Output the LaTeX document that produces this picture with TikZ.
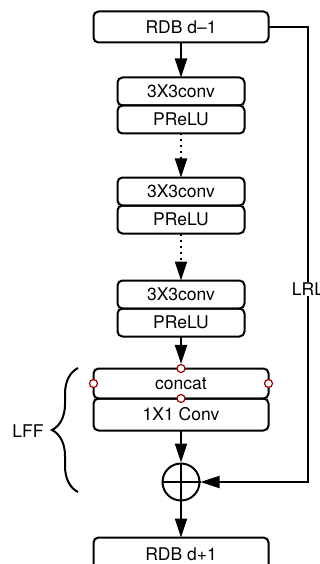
\documentclass[tikz,border=0pt]{standalone}
\usepackage{fontspec}
\setmainfont{TeX Gyre Heros}
\usetikzlibrary{arrows.meta,positioning,decorations.pathreplacing}

\begin{document}
\begin{tikzpicture}[
    x=1pt, y=-1pt,
    font=\fontsize{17.5}{20}\selectfont,
    box/.style={draw, rounded corners=5pt, line width=2pt, align=center, inner sep=0pt, outer sep=0pt, minimum width=175pt, minimum height=31pt},
    layer/.style={box, minimum width=127pt, minimum height=28pt},
    arrow/.style={-{Triangle[length=19pt,width=12pt]}, line width=2pt},
    dotarrow/.style={arrow, dash pattern=on 2pt off 4pt},
    port/.style={circle, draw=red!60!black, fill=white, line width=1.2pt, inner sep=0pt, minimum size=8pt}
]
\useasboundingbox (0,0) rectangle (320,564);
\node[box] (rdbin) at (181,27) {RDB d--1};
\node[layer, below=35pt of rdbin] (conv1) {3X3conv};
\node[layer, below=0pt of conv1] (prelu1) {PReLU};
\node[layer, below=44pt of prelu1] (conv2) {3X3conv};
\node[layer, below=0pt of conv2] (prelu2) {PReLU};
\node[layer, below=47pt of prelu2] (conv3) {3X3conv};
\node[layer, below=0pt of conv3] (prelu3) {PReLU};
\node[box, minimum height=30pt, below=32pt of prelu3] (concat) {concat};
\node[box, minimum height=32pt, below=0pt of concat] (fuse) {1X1 Conv};
\node[circle, draw, line width=2pt, minimum size=37pt, inner sep=0pt, below=32pt of fuse] (sum) {};
\node[box, minimum height=33pt, below=36pt of sum] (rdbout) {RDB d+1};
\draw[line width=2pt] (sum.north) -- (sum.south) (sum.west) -- (sum.east);
% ports of the concat layer
\foreach \a in {north,west,east,south}
    \node[port] (concat-\a) at (concat.\a) {};
\draw[arrow] (rdbin) -- (conv1);
\draw[dotarrow] (prelu1) -- (conv2);
\draw[dotarrow] (prelu2) -- (conv3);
\draw[arrow] (prelu3) -- (concat-north);
\draw[arrow] (fuse) -- (sum);
\draw[arrow] (sum) -- (rdbout);
% local residual learning
\coordinate (lrlx) at (308,27);
\draw[arrow] (rdbin.east) -- (lrlx) |- (sum.east);
\node[fill=white, inner sep=1pt] (lrl) at (308,289) {LRL};
% local feature fusion
\coordinate (bracebot) at (78,492);
\coordinate (bracetop) at (78,368);
\draw[line width=2pt, decorate, decoration={brace, amplitude=26pt}] (bracebot) -- (bracetop);
\node (lff) at (28,431) {LFF};
\end{tikzpicture}
\end{document}
